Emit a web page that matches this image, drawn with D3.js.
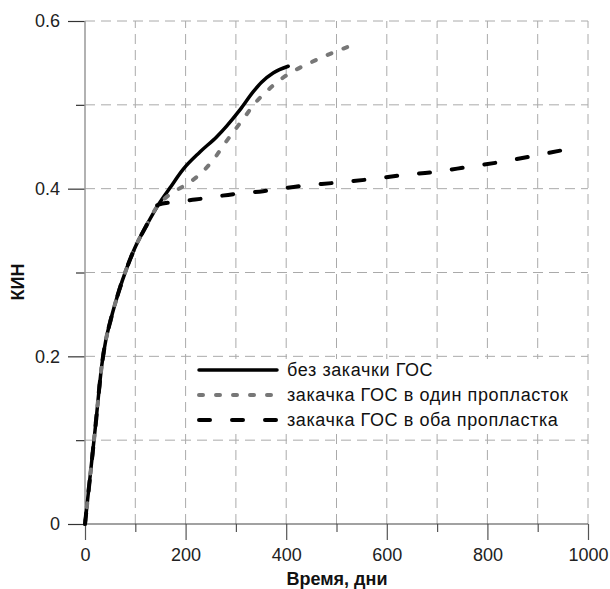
<!DOCTYPE html>
<html>
<head>
<meta charset="utf-8">
<script src="https://cdn.jsdelivr.net/npm/d3@7"></script>
<style>
    body { margin: 0; background: #fff; }
    svg { display: block; font-family: "Liberation Sans", Arial, sans-serif; }
    .tick-label { font-size: 18px; fill: #222; }
    .axis-title { font-size: 18px; font-weight: bold; fill: #111; }
    .legend-text { font-size: 18px; fill: #111; letter-spacing: 0.6px; }
</style>
</head>
<body>
<div id="chart"></div>
<script>
// KIN vs time, three injection scenarios

// common start of all three curves
const baseDays = [0, 20, 34, 41, 50, 61, 74, 96, 123, 146];
const baseKin = [0, 0.112, 0.192, 0.218, 0.241, 0.265, 0.290, 0.325, 0.357, 0.381];

// без закачки ГОС
const noInjDays = [169, 195, 229, 262, 282, 308, 335, 351, 374, 404];
const noInjKin = [0.401, 0.423, 0.444, 0.462, 0.475, 0.494, 0.516, 0.527, 0.538, 0.546];

// закачка ГОС в один пропласток
const oneDays = [160, 179, 209, 235, 262, 278, 298, 318, 338, 361, 388, 414, 447, 480, 513, 545];
const oneKin = [0.389, 0.397, 0.408, 0.421, 0.440, 0.454, 0.470, 0.486, 0.502, 0.516, 0.530, 0.540, 0.550, 0.559, 0.567, 0.574];

// закачка ГОС в оба пропластка
const bothDays = [175, 219, 302, 354, 427, 497, 563, 630, 696, 762, 828, 891, 950];
const bothKin = [0.384, 0.387, 0.394, 0.397, 0.403, 0.407, 0.411, 0.416, 0.420, 0.426, 0.432, 0.439, 0.446];

const xTicks = [0, 200, 400, 600, 800, 1000];
const xMinor = [100, 300, 500, 700, 900];
const yTicks = [0, 0.2, 0.4, 0.6];
const yMinor = [0.1, 0.3, 0.5];

const legendLabels = ['без закачки ГОС', 'закачка ГОС в один пропласток', 'закачка ГОС в оба пропластка'];

const width = 610, height = 589;
const svg = d3.select('#chart').append('svg')
    .attr('width', width)
    .attr('height', height);

const x = d3.scaleLinear().domain([0, 1000]).range([85, 588]);
const y = d3.scaleLinear().domain([0, 0.6]).range([524, 21]);

// grid
const gridX = xTicks.concat(xMinor).filter(d => d > 0);
const gridY = yTicks.concat(yMinor).filter(d => d > 0);
svg.append('g').selectAll('line').data(gridX).join('line')
    .attr('x1', d => x(d)).attr('x2', d => x(d))
    .attr('y1', y(0)).attr('y2', y(0.6))
    .attr('stroke', '#aaa').attr('stroke-width', 1)
    .attr('stroke-dasharray', '10,6');
svg.append('g').selectAll('line').data(gridY).join('line')
    .attr('x1', x(0)).attr('x2', x(1000))
    .attr('y1', d => y(d)).attr('y2', d => y(d))
    .attr('stroke', '#aaa').attr('stroke-width', 1)
    .attr('stroke-dasharray', '10,6');

// axes
const xAxis = d3.axisBottom(x).tickValues(xTicks).tickSize(16).tickPadding(8).tickFormat(d3.format('d'));
const xAxisMinor = d3.axisBottom(x).tickValues(xMinor).tickSize(8).tickFormat('');
const yAxis = d3.axisLeft(y).tickValues(yTicks).tickSize(17).tickPadding(8).tickFormat(d => d === 0 ? '0' : d3.format('.1f')(d));
const yAxisMinor = d3.axisLeft(y).tickValues(yMinor).tickSize(9).tickFormat('');

function styleAxis(g, color) {
    g.select('.domain').remove();
    g.selectAll('.tick line').attr('stroke', color).attr('stroke-width', 1.2);
    g.selectAll('.tick text').attr('class', 'tick-label').attr('font-family', null).attr('font-size', null);
}

svg.append('g').attr('transform', `translate(0,${y(0)})`).call(xAxis).call(g => styleAxis(g, '#555'));
svg.append('g').attr('transform', `translate(0,${y(0)})`).call(xAxisMinor).call(g => styleAxis(g, '#555'));
svg.append('g').attr('transform', `translate(${x(0)},0)`).call(yAxis).call(g => styleAxis(g, '#333'));
svg.append('g').attr('transform', `translate(${x(0)},0)`).call(yAxisMinor).call(g => styleAxis(g, '#333'));

// axis lines
svg.append('line')
    .attr('x1', x(0)).attr('x2', x(0)).attr('y1', y(0.6)).attr('y2', y(0))
    .attr('stroke', '#999').attr('stroke-width', 1.5);
svg.append('line')
    .attr('x1', x(0)).attr('x2', x(1000)).attr('y1', y(0)).attr('y2', y(0))
    .attr('stroke', '#444').attr('stroke-width', 1.2);

// titles
svg.append('text')
    .attr('class', 'axis-title')
    .attr('x', 337).attr('y', 585)
    .attr('text-anchor', 'middle')
    .text('Время, дни');
svg.append('text')
    .attr('class', 'axis-title')
    .attr('transform', 'translate(24,282) rotate(-90)')
    .attr('text-anchor', 'middle')
    .text('КИН');

// series
const toPts = (days, kin) => days.map((d, i) => [d, kin[i]]);
const basePts = toPts(baseDays, baseKin);
const series = [
    { pts: basePts.concat(toPts(noInjDays, noInjKin)), color: '#000', width: 3.5, dash: null, cap: 'round' },
    { pts: basePts.concat(toPts(oneDays, oneKin)), color: '#777', width: 4, dash: '4,13', cap: 'round' },
    { pts: basePts.concat(toPts(bothDays, bothKin)), color: '#000', width: 4, dash: '11,22', cap: 'round' }
];

const line = d3.line()
    .x(d => x(d[0]))
    .y(d => y(d[1]))
    .curve(d3.curveMonotoneX);

series.forEach(s => {
    svg.append('path')
        .attr('d', line(s.pts))
        .attr('fill', 'none')
        .attr('stroke', s.color)
        .attr('stroke-width', s.width)
        .attr('stroke-linecap', s.cap)
        .attr('stroke-dasharray', s.dash);
});

// legend
const legend = svg.append('g');
legend.append('rect')
    .attr('x', 190).attr('y', 359)
    .attr('width', 393).attr('height', 75)
    .attr('fill', '#fff');

series.forEach((s, i) => {
    const ly = 370 + i * 25;
    legend.append('line')
        .attr('x1', 199).attr('x2', 277)
        .attr('y1', ly).attr('y2', ly)
        .attr('stroke', s.color)
        .attr('stroke-width', s.width)
        .attr('stroke-linecap', s.cap)
        .attr('stroke-dasharray', s.dash);
    legend.append('text')
        .attr('class', 'legend-text')
        .attr('x', 287).attr('y', ly + 6)
        .text(legendLabels[i]);
});
</script>
</body>
</html>
